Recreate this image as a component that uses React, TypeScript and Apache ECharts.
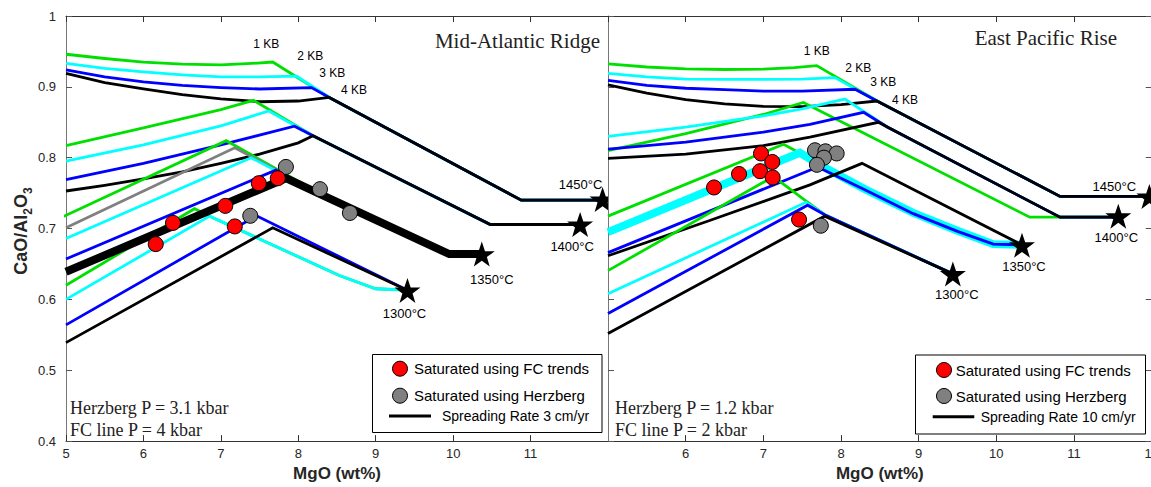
import React, { useEffect, useRef } from 'react';
import * as echarts from 'echarts';

// ---------------- data ----------------
const MGO_RANGE = [5, 12];
const RATIO_RANGE = [0.4, 1];
const PRESSURE_LABELS = ['1 KB', '2 KB', '3 KB', '4 KB'];
const TEMP_LABELS = ['1450°C', '1400°C', '1350°C', '1300°C'];

// Mid-Atlantic Ridge model lines  [MgO wt%, CaO/Al2O3]
const MAR_1450_1KB = [[5, 0.946], [5.5, 0.94], [6, 0.935], [6.5, 0.932], [7, 0.931], [7.4, 0.933], [7.67, 0.935], [8.4, 0.885], [10.88, 0.74], [12, 0.74]];
const MAR_1450_2KB = [[5, 0.933], [5.5, 0.926], [6, 0.921], [6.5, 0.917], [7, 0.914], [7.5, 0.914], [7.98, 0.915], [8.4, 0.885], [10.88, 0.74], [12, 0.74]];
const MAR_1450_3KB = [[5, 0.924], [5.5, 0.914], [6, 0.907], [6.5, 0.902], [7, 0.899], [7.5, 0.897], [8.17, 0.899], [8.4, 0.885], [10.88, 0.74], [12, 0.74]];
const MAR_1450_4KB = [[5, 0.919], [5.5, 0.906], [6, 0.897], [6.5, 0.889], [7, 0.883], [7.5, 0.879], [8, 0.88], [8.4, 0.885], [10.88, 0.74], [12, 0.74]];

const MAR_1400_1KB = [[5, 0.817], [6, 0.842], [7, 0.868], [7.42, 0.881], [8.19, 0.831], [10.48, 0.7057], [11.64, 0.7057]];
const MAR_1400_2KB = [[5, 0.795], [6, 0.818], [7, 0.845], [7.62, 0.866], [8.19, 0.831], [10.48, 0.7057], [11.64, 0.7057]];
const MAR_1400_3KB = [[5, 0.769], [6, 0.792], [7, 0.818], [7.95, 0.8445], [8.19, 0.831], [10.48, 0.7057], [11.64, 0.7057]];
const MAR_1400_4KB = [[5, 0.753], [5.5, 0.761], [6, 0.77], [6.5, 0.78], [7, 0.792], [7.5, 0.805], [8, 0.821], [8.19, 0.831], [10.48, 0.7057], [11.64, 0.7057]];

const MAR_1350_1KB = [[4.87, 0.712], [7.07, 0.824], [8.4, 0.742], [9.95, 0.664], [10.37, 0.664]];
const MAR_1350_HERZBERG = [[5, 0.701], [7.18, 0.814], [8.4, 0.742], [9.95, 0.664], [10.37, 0.664]];
const MAR_1350_2KB = [[5, 0.686], [7.39, 0.8], [8.4, 0.742], [9.95, 0.664], [10.37, 0.664]];
const MAR_1350_3KB = [[5, 0.657], [7.71, 0.7825], [8.4, 0.742], [9.95, 0.664], [10.37, 0.664]];
const MAR_1350_4KB_FC = [[5, 0.639], [7.84, 0.771], [8.4, 0.7426], [9.95, 0.664], [10.37, 0.664]];

const MAR_1300_1KB = [[5, 0.62], [6.66, 0.728], [6.855, 0.7175], [8.53, 0.6337], [9.0, 0.615], [9.41, 0.613]];
const MAR_1300_2KB = [[5, 0.6], [6.855, 0.7175], [8.53, 0.6337], [9.0, 0.615], [9.41, 0.613]];
const MAR_1300_3KB = [[5, 0.564], [7.46, 0.718], [9.41, 0.613]];
const MAR_1300_4KB = [[5, 0.539], [7.67, 0.701], [9.41, 0.613]];

const MAR_FC_SATURATED = [[6.159, 0.678], [6.382, 0.708], [7.057, 0.732], [7.49, 0.764], [7.735, 0.771], [7.18, 0.703]];
const MAR_HERZBERG_SATURATED = [[7.84, 0.787], [8.28, 0.7556], [8.667, 0.722], [7.38, 0.718]];
const MAR_TEMP_POINTS = [[11.93, 0.741], [11.64, 0.7057], [10.37, 0.664], [9.41, 0.6127]];
const MAR_KB_LABEL_AT = [[7.585, 0.96], [8.155, 0.9437], [8.44, 0.92], [8.72, 0.8957]];

// East Pacific Rise model lines
const EPR_1450_1KB = [[5, 0.9325], [5.5, 0.928], [6, 0.9255], [6.5, 0.9245], [7, 0.925], [7.4, 0.927], [7.687, 0.93], [8.5, 0.878], [10.82, 0.7454], [12.2, 0.7454]];
const EPR_1450_2KB = [[5, 0.919], [5.5, 0.914], [6, 0.911], [6.5, 0.9105], [7, 0.9105], [7.5, 0.911], [7.92, 0.913], [8.5, 0.878], [10.82, 0.7454], [12.2, 0.7454]];
const EPR_1450_3KB = [[5, 0.909], [5.5, 0.902], [6, 0.898], [6.5, 0.896], [7, 0.894], [7.5, 0.894], [8.18, 0.8966], [8.5, 0.878], [10.82, 0.7454], [12.2, 0.7454]];
const EPR_1450_4KB = [[5, 0.9027], [5.5, 0.891], [6, 0.882], [6.5, 0.876], [7, 0.8725], [7.5, 0.872], [8, 0.875], [8.46, 0.88], [8.5, 0.878], [10.82, 0.7454], [12.2, 0.7454]];

const EPR_1400_1KB = [[5, 0.81], [6, 0.834], [7, 0.861], [7.515, 0.878], [10.43, 0.716], [11.57, 0.716]];
const EPR_1400_2KB = [[5, 0.83], [6, 0.843], [7, 0.859], [7.5, 0.869], [8.05, 0.8827], [8.6, 0.843], [10.82, 0.716], [11.57, 0.716]];
const EPR_1400_3KB = [[5, 0.812], [6, 0.822], [7, 0.836], [7.6, 0.847], [8.29, 0.864], [8.6, 0.843], [10.82, 0.716], [11.57, 0.716]];
const EPR_1400_4KB = [[5, 0.799], [6, 0.805], [7, 0.817], [7.6, 0.829], [8.48, 0.85], [10.82, 0.716], [11.57, 0.716]];

const EPR_1350_1KB = [[5, 0.7175], [7.26, 0.819], [7.6, 0.799], [8.3, 0.757], [8.93, 0.723], [9.5, 0.697], [9.96, 0.678], [10.33, 0.677]];
const EPR_1350_2KB_FC = [[5, 0.695], [7.47, 0.807], [7.73, 0.7895], [8.3, 0.756], [8.93, 0.722], [9.5, 0.697], [9.96, 0.678], [10.33, 0.677]];
const EPR_1350_3KB = [[5, 0.666], [7.7, 0.787], [8.3, 0.755], [8.93, 0.721], [9.5, 0.696], [9.96, 0.678], [10.33, 0.677]];
const EPR_1350_4KB = [[5, 0.6616], [6.3, 0.711], [7.6, 0.7616], [8.27, 0.792], [10.33, 0.677]];

const EPR_1300_1KB = [[5, 0.6406], [7.13, 0.7733], [7.56, 0.738], [7.79, 0.7195], [9.44, 0.636]];
const EPR_1300_2KB = [[5, 0.608], [7.55, 0.737], [7.79, 0.7195], [9.44, 0.636]];
const EPR_1300_3KB = [[5, 0.58], [7.57, 0.733], [7.79, 0.7195], [9.44, 0.636]];
const EPR_1300_4KB = [[5, 0.552], [7.79, 0.7175], [9.44, 0.636]];

const EPR_FC_SATURATED = [[6.365, 0.758], [6.687, 0.777], [6.97, 0.806], [7.115, 0.794], [6.957, 0.781], [7.12, 0.772], [7.46, 0.7127]];
const EPR_HERZBERG_SATURATED = [[7.665, 0.8105], [7.8, 0.809], [7.944, 0.806], [7.78, 0.8], [7.69, 0.79], [7.74, 0.704]];
const EPR_TEMP_POINTS = [[11.97, 0.7454], [11.57, 0.7175], [10.33, 0.6765], [9.44, 0.636]];
const EPR_KB_LABEL_AT = [[7.687, 0.95], [8.223, 0.927], [8.545, 0.907], [8.824, 0.882]];

// ---------------- styling ----------------
const GREEN = '#00e000';
const CYAN = '#00ffff';
const BLUE = '#0000ff';
const BLACK = '#000000';
const GRAY = '#808080';
const SANS = 'Liberation Sans, Arial, sans-serif';
const SERIF = 'Liberation Serif, Times New Roman, serif';
const TXT = '#262626';
const THIN = 2.8;
const THICK = 8;
const STAR = 'path://M50,0 L61.8,35.3 L98.1,35.3 L68.8,57.1 L79.4,91.9 L50,70.6 L20.6,91.9 L31.2,57.1 L1.9,35.3 L38.2,35.3 Z';

const line = (data: number[][], color: string, width = THIN, z = 2, clip = true) => ({
  type: 'line', data, symbol: 'none', showSymbol: false, silent: true, clip, z,
  lineStyle: { color, width, cap: 'butt', join: 'miter', opacity: 1 },
});

const dots = (data: number[][], color: string) => ({
  type: 'scatter', data, symbol: 'circle', symbolSize: 15, silent: true, z: 4,
  itemStyle: { color, borderColor: '#000', borderWidth: 1, opacity: 1 },
});

const stars = (pts: number[][], offsets: number[][]) => ({
  type: 'scatter', symbol: STAR, symbolSize: [26, 25], silent: true, z: 5, clip: false,
  itemStyle: { color: '#000', opacity: 1 },
  data: pts.map((p, i) => ({ name: TEMP_LABELS[i], value: p, label: { offset: offsets[i] } })),
  label: {
    show: true, position: 'inside', formatter: '{b}', color: '#000', fontSize: 13, fontFamily: SANS,
    textBorderWidth: 0, textBorderColor: 'transparent',
  },
});

const kbLabels = (pts: number[][]) => ({
  type: 'scatter', symbol: 'circle', symbolSize: 0.1, silent: true, z: 5, clip: false,
  itemStyle: { color: '#000000', opacity: 0 },
  data: pts.map((p, i) => ({ name: PRESSURE_LABELS[i], value: p })),
  label: {
    show: true, position: 'inside', formatter: '{b}', color: '#000000', fontSize: 12, fontFamily: SANS,
    textBorderWidth: 0, textBorderColor: 'transparent', opacity: 1,
  },
});

const xAxes = (hideMin: boolean) => [
  {
    type: 'value', min: MGO_RANGE[0], max: MGO_RANGE[1], interval: 1, position: 'bottom',
    axisLine: { show: true, lineStyle: { color: '#333', width: 1 } },
    axisTick: { show: true, inside: true, length: 6, lineStyle: { color: '#333' } },
    axisLabel: { color: TXT, fontSize: 13, fontFamily: SANS, margin: 6, showMinLabel: !hideMin, showMaxLabel: hideMin },
    splitLine: { show: false },
    name: 'MgO (wt%)', nameLocation: 'middle', nameGap: 20,
    nameTextStyle: { color: TXT, fontSize: 17, fontWeight: 'bold', fontFamily: SANS },
  },
  {
    type: 'value', min: MGO_RANGE[0], max: MGO_RANGE[1], interval: 1, position: 'top',
    axisLine: { show: true, lineStyle: { color: '#333', width: 1 } },
    axisTick: { show: true, inside: true, length: 6, lineStyle: { color: '#333' } },
    axisLabel: { show: false }, splitLine: { show: false },
  },
];

const yAxis = (position: string, labels: boolean) => ({
  type: 'value', min: RATIO_RANGE[0], max: RATIO_RANGE[1], interval: 0.1, position,
  axisLine: { show: true, lineStyle: { color: '#777', width: 1 } },
  axisTick: { show: true, inside: true, length: 6, lineStyle: { color: '#555' } },
  axisLabel: { show: labels, color: TXT, fontSize: 13, fontFamily: SANS, margin: 10 },
  splitLine: { show: false },
});

const legendGraphic = (bx: number, by: number, bw: number, bh: number, mx: number, tx: number,
  rows: number[], lx1: number, lx2: number, ltx: number, lineText: string) => [
  { type: 'rect', shape: { x: bx, y: by, width: bw, height: bh }, style: { fill: '#fff', stroke: '#000', lineWidth: 1 }, z: 20 },
  { type: 'circle', shape: { cx: mx, cy: rows[0], r: 7.5 }, style: { fill: '#ff0000', stroke: '#000', lineWidth: 1 }, z: 21 },
  { type: 'text', x: tx, y: rows[0], style: { text: 'Saturated using FC trends', fill: '#000', fontSize: 15, fontFamily: SANS, align: 'left', verticalAlign: 'middle' }, z: 21 },
  { type: 'circle', shape: { cx: mx, cy: rows[1], r: 7.5 }, style: { fill: GRAY, stroke: '#000', lineWidth: 1 }, z: 21 },
  { type: 'text', x: tx, y: rows[1], style: { text: 'Saturated using Herzberg', fill: '#000', fontSize: 15, fontFamily: SANS, align: 'left', verticalAlign: 'middle' }, z: 21 },
  { type: 'line', shape: { x1: lx1, y1: rows[2], x2: lx2, y2: rows[2] }, style: { stroke: '#000', lineWidth: 3 }, z: 21 },
  { type: 'text', x: ltx, y: rows[2], style: { text: lineText, fill: '#000', fontSize: 14, fontFamily: SANS, align: 'left', verticalAlign: 'middle' }, z: 21 },
];

const serifText = (text: string, x: number, y: number, size: number, align: string) => ({
  type: 'text', x, y, z: 20,
  style: { text, fill: '#222', fontSize: size, fontFamily: SERIF, align, verticalAlign: 'middle' },
});

function leftOption() {
  return {
    animation: false,
    grid: { left: 66, top: 16, width: 543.6, height: 430 },
    xAxis: xAxes(false).map((a, i) => (i === 0 ? { ...a, axisLabel: { ...a.axisLabel, showMaxLabel: false } } : a)),
    yAxis: [yAxis('left', true)],
    series: [
      line(MAR_1450_1KB, GREEN), line(MAR_1450_2KB, CYAN), line(MAR_1450_3KB, BLUE), line(MAR_1450_4KB, BLACK),
      line(MAR_1400_1KB, GREEN), line(MAR_1400_2KB, CYAN), line(MAR_1400_3KB, BLUE), line(MAR_1400_4KB, BLACK),
      line(MAR_1350_1KB, GREEN, THIN, 2, false), line(MAR_1350_HERZBERG, GRAY), line(MAR_1350_2KB, CYAN), line(MAR_1350_3KB, BLUE),
      line(MAR_1300_1KB, GREEN), line(MAR_1300_2KB, CYAN), line(MAR_1300_3KB, BLUE), line(MAR_1300_4KB, BLACK),
      line(MAR_1350_4KB_FC, BLACK, THICK, 3),
      dots(MAR_HERZBERG_SATURATED, GRAY), dots(MAR_FC_SATURATED, '#ff0000'),
      stars(MAR_TEMP_POINTS, [[-22, -15], [-8, 22], [10, 25], [-3, 23]]),
      kbLabels(MAR_KB_LABEL_AT),
    ],
    graphic: [
      ...legendGraphic(372.5, 354.5, 229.5, 78, 400, 414, [368.7, 395.7, 416], 389, 431, 442, 'Spreading Rate 3 cm/yr'),
      serifText('Mid-Atlantic Ridge', 600, 41, 21, 'right'),
      serifText('Herzberg P = 3.1 kbar', 70, 408, 18, 'left'),
      serifText('FC line P = 4 kbar', 70, 430, 18, 'left'),
      {
        type: 'text', x: 21, y: 231, rotation: Math.PI / 2, z: 20,
        style: {
          text: 'CaO/Al{s|2}O{s|3}', fill: TXT, fontSize: 18, fontWeight: 'bold', fontFamily: SANS,
          lineHeight: 26, align: 'center', verticalAlign: 'middle',
          rich: { s: { fontSize: 12, fontWeight: 'bold', fontFamily: SANS, fill: TXT, lineHeight: 12, verticalAlign: 'bottom' } },
        },
      },
    ],
  };
}

function rightOption() {
  return {
    animation: false,
    grid: { left: 1, top: 16, width: 543.7, height: 430 },
    xAxis: xAxes(true),
    yAxis: [yAxis('left', false), yAxis('right', false)],
    series: [
      line(EPR_1450_1KB, GREEN), line(EPR_1450_2KB, CYAN), line(EPR_1450_3KB, BLUE), line(EPR_1450_4KB, BLACK),
      line(EPR_1400_1KB, GREEN), line(EPR_1400_2KB, CYAN), line(EPR_1400_3KB, BLUE), line(EPR_1400_4KB, BLACK),
      line(EPR_1350_1KB, GREEN), line(EPR_1350_2KB_FC, CYAN, THICK), line(EPR_1350_3KB, BLUE), line(EPR_1350_4KB, BLACK),
      line(EPR_1300_1KB, GREEN), line(EPR_1300_2KB, CYAN), line(EPR_1300_3KB, BLUE), line(EPR_1300_4KB, BLACK),
      dots(EPR_HERZBERG_SATURATED, GRAY), dots(EPR_FC_SATURATED, '#ff0000'),
      stars(EPR_TEMP_POINTS, [[-35, -10], [-2, 21], [2, 21], [4, 21]]),
      kbLabels(EPR_KB_LABEL_AT),
    ],
    graphic: [
      ...legendGraphic(308.5, 355, 230, 79, 337, 348.7, [370, 396, 416.7], 325.7, 367.3, 373.7, 'Spreading Rate 10 cm/yr'),
      serifText('East Pacific Rise', 510, 37.5, 21, 'right'),
      serifText('Herzberg P = 1.2 kbar', 8, 408, 18, 'left'),
      serifText('FC line P = 2 kbar', 8, 430, 18, 'left'),
    ],
  };
}

export default function App() {
  const leftRef = useRef<HTMLDivElement>(null);
  const rightRef = useRef<HTMLDivElement>(null);
  useEffect(() => {
    document.body.style.margin = '0';
    document.body.style.overflow = 'hidden';
    const l = echarts.init(leftRef.current!, null, { renderer: 'svg' });
    const r = echarts.init(rightRef.current!, null, { renderer: 'svg' });
    l.setOption(leftOption() as any);
    r.setOption(rightOption() as any);
    return () => {
      l.dispose();
      r.dispose();
    };
  }, []);
  return (
    <div style={{ position: 'fixed', left: 0, top: 0, width: 1151, height: 487, overflow: 'hidden', background: '#fff' }}>
      <div ref={leftRef} style={{ position: 'absolute', left: 0, top: 0, width: 608, height: 487, overflow: 'hidden' }} />
      <div ref={rightRef} style={{ position: 'absolute', left: 607, top: 0, width: 560, height: 487, overflow: 'hidden' }} />
    </div>
  );
}
